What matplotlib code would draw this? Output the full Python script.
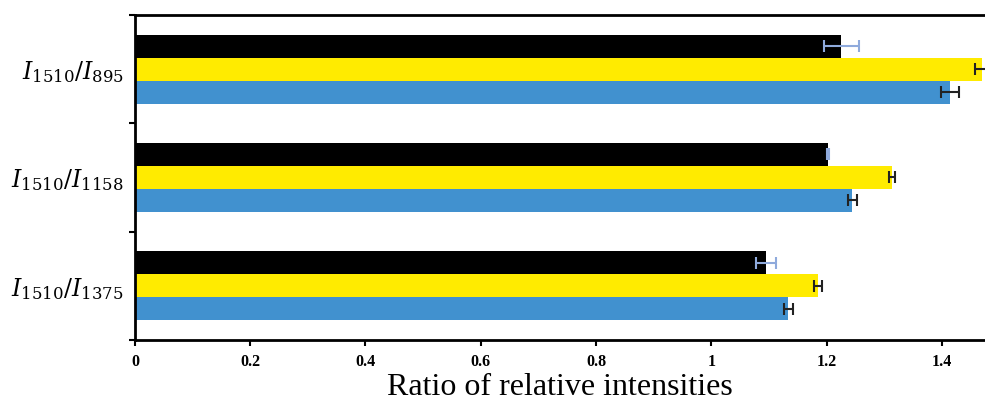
import numpy as np
import matplotlib.pyplot as plt

plt.rcParams['mathtext.fontset'] = 'dejavuserif'

# categories, bottom to top
labels = [r'$I_{1510}/I_{1375}$', r'$I_{1510}/I_{1158}$', r'$I_{1510}/I_{895}$']

# series (drawn bottom to top inside each group)
blue = [1.134, 1.245, 1.414]
blue_err = [0.008, 0.008, 0.016]
yellow = [1.185, 1.313, 1.469]
yellow_err = [0.007, 0.005, 0.012]
black = [1.095, 1.202, 1.226]
black_err = [0.017, 0.002, 0.030]

fig = plt.figure(figsize=(9.85, 4.01), dpi=100)
ax = fig.add_axes([0.137, 0.152, 0.863, 0.811])

y = np.arange(len(labels))
h = 0.212
ax.barh(y - h, blue, h, color='#4191CF', xerr=blue_err,
        error_kw=dict(ecolor='#222222', capsize=4, elinewidth=1.5, capthick=1.5))
ax.barh(y, yellow, h, color='#FFEB00', xerr=yellow_err,
        error_kw=dict(ecolor='#222222', capsize=4, elinewidth=1.5, capthick=1.5))
ax.barh(y + h, black, h, color='#000000', xerr=black_err,
        error_kw=dict(ecolor='#8FAADC', capsize=4, elinewidth=1.5, capthick=1.5))

ax.set_xlim(0, 1.475)
ax.set_ylim(-0.5, 2.5)
ax.set_xticks(np.arange(0, 1.41, 0.2))
ax.set_xticklabels(['0', '0.2', '0.4', '0.6', '0.8', '1', '1.2', '1.4'],
                   fontfamily='Liberation Serif', fontweight='bold', fontsize=11.5)
ax.set_yticks([-0.5, 0.5, 1.5, 2.5])
ax.set_yticklabels([])
ax.set_yticks(y, minor=True)
ax.set_yticklabels(labels, minor=True, fontsize=17)
ax.tick_params(axis='y', which='minor', length=0, pad=8)
ax.tick_params(axis='y', which='major', length=4, width=1.5, direction='out')
ax.tick_params(axis='x', length=4, width=1.5, direction='out', pad=6)

for s in ['left', 'bottom', 'top']:
    ax.spines[s].set_linewidth(2)
ax.spines['right'].set_visible(False)

ax.set_xlabel('Ratio of relative intensities', fontfamily='Liberation Serif',
              fontsize=23, labelpad=2)

fig.savefig('out.png', dpi=100)
